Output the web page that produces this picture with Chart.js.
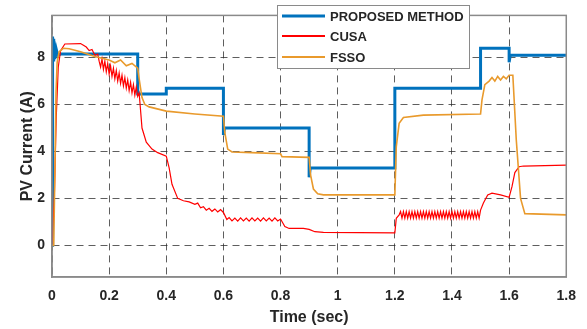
<!DOCTYPE html>
<html lang="en">
<head>
  <meta charset="UTF-8" />
  <title>PV Current</title>
  <style>
    body { margin: 0; background: #fff; }
    canvas#pvChart { display: block; }
  </style>
</head>
<body>
  <canvas id="pvChart" width="587" height="329"></canvas>

  <script src="https://cdn.jsdelivr.net/npm/chart.js"></script>
  <script>
    // values
    const xTicks = [0, 0.2, 0.4, 0.6, 0.8, 1, 1.2, 1.4, 1.6, 1.8];
    const yTicks = [0, 2, 4, 6, 8];
    const seriesNames = ['PROPOSED METHOD', 'CUSA', 'FSSO'];

    const proposedT = [0, 0.002, 0.004, 0.006, 0.008, 0.010, 0.012, 0.015, 0.02, 0.03, 0.3, 0.3, 0.4, 0.4,
      0.6, 0.6, 0.604, 0.9, 0.9, 0.904, 1.2, 1.2, 1.5, 1.5, 1.6, 1.6, 1.604, 1.8];
    const proposedY = [0, 8.9, 7.9, 8.8, 8.0, 8.6, 8.05, 8.35, 8.1, 8.15, 8.15, 6.45, 6.45, 6.7,
      6.7, 4.7, 5.0, 5.0, 2.9, 3.3, 3.3, 6.7, 6.7, 8.4, 8.4, 7.8, 8.1, 8.1];

    const cusaT = [0, 0.008, 0.015, 0.022, 0.03, 0.045, 0.1, 0.12, 0.13, 0.14, 0.15, 0.16, 0.165,
      0.17, 0.175, 0.18, 0.185, 0.19, 0.195, 0.2, 0.205, 0.21, 0.215, 0.22, 0.225, 0.23, 0.235, 0.24,
      0.245, 0.25, 0.255, 0.26, 0.265, 0.27, 0.275, 0.28, 0.285, 0.29, 0.295, 0.3, 0.305,
      0.315, 0.33, 0.35, 0.37, 0.4, 0.41, 0.42, 0.44, 0.46, 0.48, 0.5, 0.51, 0.52, 0.53, 0.54, 0.55, 0.56,
      0.57, 0.58, 0.59, 0.6, 0.612,
      0.62, 0.63, 0.64, 0.65, 0.66, 0.67, 0.68, 0.69, 0.7, 0.71, 0.72, 0.73, 0.74, 0.75, 0.76, 0.77, 0.78, 0.79,
      0.8, 0.815, 0.83, 0.88, 0.9, 0.92, 0.95, 1.2, 1.205, 1.215,
      1.22, 1.225, 1.23, 1.235, 1.24, 1.245, 1.25, 1.255, 1.26, 1.265, 1.27, 1.275, 1.28, 1.285,
      1.29, 1.295, 1.3, 1.305, 1.31, 1.315, 1.32, 1.325, 1.33, 1.335, 1.34, 1.345, 1.35, 1.355,
      1.36, 1.365, 1.37, 1.375, 1.38, 1.385, 1.39, 1.395, 1.4, 1.405, 1.41, 1.415, 1.42, 1.425,
      1.43, 1.435, 1.44, 1.445, 1.45, 1.455, 1.46, 1.465, 1.47, 1.475, 1.48, 1.485, 1.49, 1.495,
      1.5, 1.51, 1.525, 1.54, 1.57, 1.6, 1.61, 1.62, 1.635, 1.65, 1.8];
    const cusaY = [0, 2.0, 5.5, 7.6, 8.3, 8.58, 8.6, 8.45, 8.3, 8.35, 8.1, 8.15, 7.85,
      7.6, 7.95, 7.5, 7.85, 7.4, 7.75, 7.3, 7.65, 7.2, 7.55, 7.1, 7.45, 7.0, 7.35, 6.9,
      7.25, 6.8, 7.15, 6.7, 7.05, 6.6, 6.95, 6.5, 6.85, 6.4, 6.75, 6.35, 6.5,
      5.0, 4.4, 4.1, 3.95, 3.8, 3.3, 2.6, 2.0, 1.9, 1.85, 1.75, 1.8, 1.6, 1.65, 1.5, 1.58, 1.45,
      1.55, 1.42, 1.52, 1.4, 1.1,
      1.18, 1.04, 1.16, 1.03, 1.17, 1.04, 1.16, 1.03, 1.17, 1.04, 1.16, 1.03, 1.17, 1.04, 1.16, 1.03, 1.17, 1.04,
      1.12, 0.8, 0.72, 0.72, 0.68, 0.58, 0.55, 0.53, 1.15, 1.3,
      1.44, 1.16, 1.44, 1.16, 1.44, 1.16, 1.44, 1.16, 1.44, 1.16, 1.44, 1.16, 1.44, 1.16,
      1.44, 1.16, 1.44, 1.16, 1.44, 1.16, 1.44, 1.16, 1.44, 1.16, 1.44, 1.16, 1.44, 1.16,
      1.44, 1.16, 1.44, 1.16, 1.44, 1.16, 1.44, 1.16, 1.44, 1.16, 1.44, 1.16, 1.44, 1.16,
      1.44, 1.16, 1.44, 1.16, 1.44, 1.16, 1.44, 1.16, 1.44, 1.16, 1.44, 1.16, 1.44, 1.16,
      1.5, 1.8, 2.15, 2.22, 2.15, 2.05, 2.5, 3.1, 3.35, 3.38, 3.42];

    const fssoT = [0, 0.006, 0.01, 0.014, 0.018, 0.025, 0.04, 0.06, 0.1, 0.15, 0.2, 0.22, 0.24, 0.26, 0.28, 0.3,
      0.305, 0.315, 0.325, 0.34, 0.4, 0.5, 0.6, 0.605, 0.615, 0.63, 0.7, 0.8, 0.805, 0.9, 0.905, 0.915, 0.93, 0.95,
      1.2, 1.205, 1.215, 1.23, 1.3, 1.5, 1.505, 1.515, 1.53, 1.54, 1.55, 1.56, 1.57, 1.58, 1.59, 1.6, 1.613,
      1.625, 1.64, 1.655, 1.8];
    const fssoY = [0, 0, 3.0, 6.5, 7.8, 8.25, 8.4, 8.38, 8.25, 8.05, 7.9, 7.78, 7.9, 7.65, 7.75, 7.55,
      7.1, 6.3, 6.0, 5.9, 5.72, 5.6, 5.5, 4.8, 4.1, 3.98, 3.95, 3.9, 3.78, 3.75, 3.0, 2.4, 2.2, 2.15,
      2.15, 4.2, 5.2, 5.45, 5.55, 5.6, 6.2, 6.85, 7.0, 7.15, 7.0, 7.2, 7.05, 7.2, 7.1, 7.25, 7.25,
      4.5, 2.0, 1.35, 1.3];

    const colors = ['#0072BD', '#FF0000', '#E99A2C'];
    const widths = [3, 1.2, 1.6];
    const fontFamily = '"Liberation Sans", Arial, Helvetica, sans-serif';
    const textColor = '#262626';
    const axisColor = '#8a8a8a';

    function toPoints(ts, ys) {
      return ts.map((t, i) => ({ x: t, y: ys[i] }));
    }

    // box around the plot area (matlab style)
    const frame = {
      id: 'frame',
      afterDatasetsDraw(chart) {
        const a = chart.chartArea;
        const c = chart.ctx;
        c.save();
        c.strokeStyle = axisColor;
        c.lineWidth = 1.5;
        c.strokeRect(a.left, a.top, a.right - a.left, a.bottom - a.top);
        c.restore();
      }
    };

    // legend box inside the axes
    const boxLegend = {
      id: 'boxLegend',
      afterDraw(chart) {
        const c = chart.ctx;
        const x0 = 277, y0 = 5, w = 192, h = 63;
        c.save();
        c.fillStyle = '#fff';
        c.fillRect(x0, y0, w, h);
        c.strokeStyle = axisColor;
        c.lineWidth = 1;
        c.strokeRect(x0 + 0.5, y0 + 0.5, w, h);
        const rows = [16, 36, 57];
        chart.data.datasets.forEach((ds, i) => {
          c.strokeStyle = ds.borderColor;
          c.lineWidth = i === 0 ? 3 : 2;
          c.beginPath();
          c.moveTo(x0 + 5, rows[i]);
          c.lineTo(x0 + 48, rows[i]);
          c.stroke();
          c.fillStyle = textColor;
          c.font = 'bold 13px ' + fontFamily;
          c.textBaseline = 'middle';
          c.fillText(ds.label, x0 + 53, rows[i] + 1);
        });
        c.restore();
      }
    };

    const chart = new Chart(document.getElementById('pvChart'), {
      type: 'line',
      data: {
        datasets: [
          { label: seriesNames[0], data: toPoints(proposedT, proposedY), order: 3 },
          { label: seriesNames[1], data: toPoints(cusaT, cusaY), order: 2 },
          { label: seriesNames[2], data: toPoints(fssoT, fssoY), order: 1 }
        ].map((ds, i) => Object.assign(ds, {
          borderColor: colors[i],
          borderWidth: widths[i],
          pointRadius: 0,
          tension: 0,
          fill: false
        }))
      },
      options: {
        responsive: false,
        animation: false,
        layout: { padding: { top: 5, right: 20, left: 0, bottom: 0 } },
        plugins: { legend: { display: false }, tooltip: { enabled: false } },
        scales: {
          x: {
            type: 'linear',
            min: 0,
            max: 1.8,
            afterBuildTicks: s => { s.ticks = xTicks.map(v => ({ value: v })); },
            afterFit: s => { s.height = 52; },
            ticks: {
              callback: v => String(v),
              color: textColor,
              padding: 11,
              maxRotation: 0,
              font: { family: fontFamily, size: 14, weight: 'bold' }
            },
            grid: { color: 'rgba(40,40,40,0.75)', lineWidth: 1, drawTicks: false },
            border: { color: axisColor, width: 1.5, dash: [7, 5] },
            title: {
              display: true,
              text: 'Time (sec)',
              color: textColor,
              padding: { top: 0, bottom: 2 },
              font: { family: fontFamily, size: 16, weight: 'bold' }
            }
          },
          y: {
            min: -1.35,
            max: 9.8,
            afterBuildTicks: s => { s.ticks = yTicks.map(v => ({ value: v })); },
            afterFit: s => { s.width = 52; },
            ticks: {
              color: textColor,
              padding: 7,
              font: { family: fontFamily, size: 14, weight: 'bold' }
            },
            grid: { color: 'rgba(40,40,40,0.75)', lineWidth: 1, drawTicks: false },
            border: { color: axisColor, width: 1.5, dash: [7, 5] },
            title: {
              display: true,
              text: 'PV Current (A)',
              color: textColor,
              padding: { top: 18, bottom: 0 },
              font: { family: fontFamily, size: 16, weight: 'bold' }
            }
          }
        }
      },
      plugins: [frame, boxLegend]
    });
  </script>
</body>
</html>
